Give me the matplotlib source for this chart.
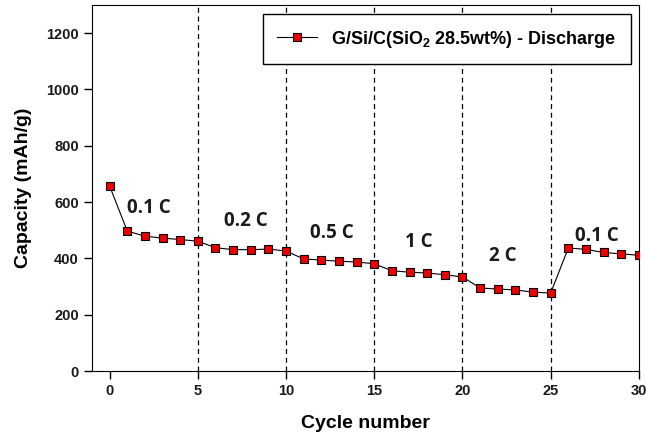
import matplotlib
matplotlib.use('Agg')
import matplotlib.pyplot as plt

# discharge capacity per cycle
cycles = list(range(31))
capacity = [657, 497, 479, 472, 467, 461, 438, 431, 431, 433, 426,
            398, 394, 390, 387, 381, 356, 351, 348, 342, 334,
            295, 291, 288, 280, 277, 437, 432, 421, 416, 411]

# C-rate regions
rate_labels = ['0.1 C', '0.2 C', '0.5 C', '1 C', '2 C', '0.1 C']
rate_x = [2.2, 7.7, 12.6, 17.5, 22.3, 27.6]
rate_y = [579, 532, 490, 458, 408, 479]
boundaries = [5, 10, 15, 20, 25]

plt.rcParams['font.family'] = ['Liberation Sans', 'DejaVu Sans']
plt.rcParams['mathtext.default'] = 'regular'

fig = plt.figure(figsize=(6.46, 4.41), dpi=100)
ax = fig.add_axes([0.1424, 0.1587, 0.8466, 0.83])

for b in boundaries:
    ax.axvline(b, color='black', linestyle=(0, (4, 3)), linewidth=0.9, zorder=1)

ax.plot(cycles, capacity, color='black', linewidth=0.8, marker='s',
        markersize=6.3, markerfacecolor='#ee0000', markeredgecolor='black',
        markeredgewidth=0.8, zorder=3,
        label=r'G/Si/C(SiO$_{2}$ 28.5wt%) - Discharge')

for lab, x, y in zip(rate_labels, rate_x, rate_y):
    ax.text(x, y, lab, ha='center', va='center', fontsize=13.5,
            fontweight='bold', family=['Open Sans', 'DejaVu Sans'],
            color='#1a1a1a', zorder=4)

ax.set_xlim(-1, 30)
ax.set_ylim(0, 1300)
ax.set_xticks([0, 5, 10, 15, 20, 25, 30])
ax.set_yticks([0, 200, 400, 600, 800, 1000, 1200])
ax.tick_params(direction='out', length=6, width=1, labelsize=10.5)
for lbl in ax.get_xticklabels() + ax.get_yticklabels():
    lbl.set_fontweight('bold')
    lbl.set_color('#1a1a1a')

ax.set_xlabel('Cycle number', fontsize=14, fontweight='bold', labelpad=12)
ax.set_ylabel('Capacity (mAh/g)', fontsize=14, fontweight='bold', labelpad=10)

leg = ax.legend(loc='upper right', frameon=True, fancybox=False,
                edgecolor='black', framealpha=1, borderpad=0.8,
                borderaxespad=0, handlelength=2.2,
                bbox_to_anchor=(0.985, 0.975),
                prop={'weight': 'bold', 'size': 13})
leg.get_frame().set_linewidth(1.0)

fig.savefig('out.png', dpi=100)
